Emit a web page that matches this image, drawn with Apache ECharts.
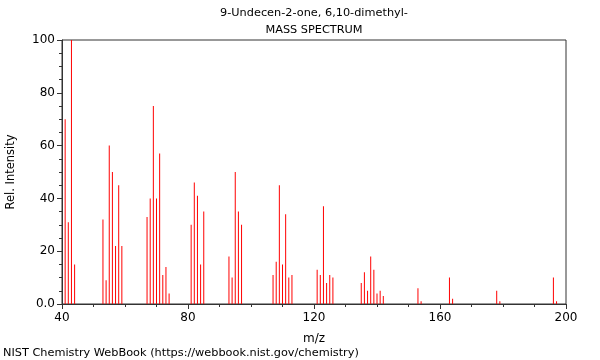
<!DOCTYPE html>
<html>
<head>
<meta charset="utf-8">
<script src="https://cdn.jsdelivr.net/npm/echarts@6/dist/echarts.min.js"></script>
<style>html,body{margin:0;padding:0;background:#fff}#c{width:600px;height:360px}</style>
</head>
<body>
<div id="c"></div>
<script>
const titleLines = ['9-Undecen-2-one, 6,10-dimethyl-', 'MASS SPECTRUM'];
const footer = 'NIST Chemistry WebBook (https://webbook.nist.gov/chemistry)';
const mzValues = [41, 42, 43, 44, 53, 54, 55, 56, 57, 58, 59, 67, 68, 69, 70, 71, 72, 73, 74,
  81, 82, 83, 84, 85, 93, 94, 95, 96, 97, 107, 108, 109, 110, 111, 112, 113,
  121, 122, 123, 124, 125, 126, 135, 136, 137, 138, 139, 140, 141, 142, 153, 154,
  163, 164, 178, 179, 196, 197];
const intensities = [70, 31, 100, 15, 32, 9, 60, 50, 22, 45, 22, 33, 40, 75, 40, 57, 11, 14, 4,
  30, 46, 41, 15, 35, 18, 10, 50, 35, 30, 11, 16, 45, 15, 34, 10, 11,
  13, 11, 37, 8, 11, 10, 8, 12, 5, 18, 13, 4, 5, 3, 6, 1,
  10, 2, 5, 1, 10, 1];
const yZeroLabel = '0.0';

const font = 'DejaVu Sans';
const chart = echarts.init(document.getElementById('c'), null, {renderer: 'canvas'});
const data = mzValues.map((m, i) => [m, intensities[i]]);
const txt = {fontFamily: font, fontWeight: 'normal', color: '#000'};
chart.setOption({
  animation: false,
  graphic: [
    {type: 'text', x: 314, y: 13, style: {text: titleLines[0], x: 0, y: 0, align: 'center', verticalAlign: 'middle', font: '11.3px "DejaVu Sans"', fill: '#000'}},
    {type: 'text', x: 314, y: 30, style: {text: titleLines[1], x: 0, y: 0, align: 'center', verticalAlign: 'middle', font: '11.3px "DejaVu Sans"', fill: '#000'}},
    {type: 'text', x: 3, y: 353, style: {text: footer, x: 0, y: 0, align: 'left', verticalAlign: 'middle', font: '11.3px "DejaVu Sans"', fill: '#000'}}
  ],
  grid: {left: 62, right: 34, top: 40, bottom: 56, show: true, borderColor: '#333', borderWidth: 1, containLabel: false, outerBoundsMode: 'none'},
  xAxis: {
    type: 'value', min: 40, max: 200, interval: 40,
    name: 'm/z', nameLocation: 'middle', nameGap: 29,
    nameTextStyle: Object.assign({fontSize: 12}, txt),
    axisLine: {show: true, lineStyle: {color: '#333', width: 1}},
    axisTick: {show: true, length: 5, lineStyle: {color: '#333'}},
    minorTick: {show: true, splitNumber: 4, length: 3, lineStyle: {color: '#333'}},
    splitLine: {show: false},
    axisLabel: Object.assign({fontSize: 12, margin: 8}, txt)
  },
  yAxis: {
    type: 'value', min: 0, max: 100, interval: 20,
    name: 'Rel. Intensity', nameLocation: 'middle', nameGap: 45,
    nameTextStyle: Object.assign({fontSize: 11.5}, txt),
    axisLine: {show: true, lineStyle: {color: '#333', width: 1}},
    axisTick: {show: true, length: 5, lineStyle: {color: '#333'}},
    minorTick: {show: true, splitNumber: 4, length: 3, lineStyle: {color: '#333'}},
    splitLine: {show: false},
    axisLabel: Object.assign({fontSize: 12, margin: 7, formatter: v => (v === 0 ? yZeroLabel : String(v))}, txt)
  },
  series: [{
    type: 'bar', data: data, barWidth: 1,
    itemStyle: {color: '#ff0000'},
    silent: true
  }]
});
</script>
</body>
</html>
